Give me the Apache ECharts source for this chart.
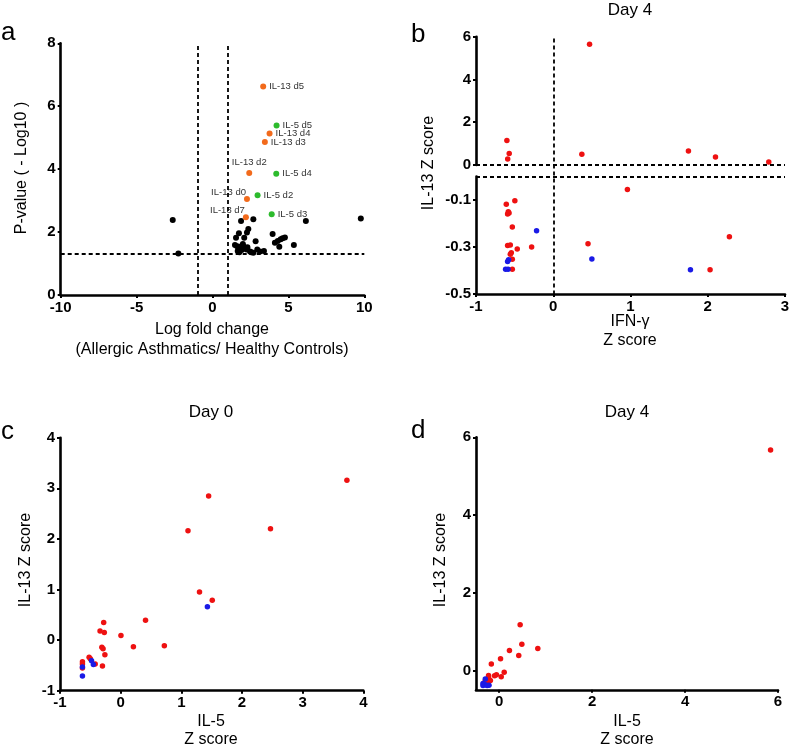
<!DOCTYPE html>
<html>
<head>
<meta charset="utf-8">
<script src="https://cdn.jsdelivr.net/npm/echarts@6/dist/echarts.min.js"></script>
<style>html,body{margin:0;padding:0;background:#fff}#c{width:790px;height:747px}</style>
</head>
<body>
<div id="c"></div>
<script>
// ---------- DATA ----------
// Panel a: volcano plot
const aBlackX = [-2.62,-2.25,9.77,6.15,1.88,2.69,1.74,2.36,2.27,2.09,1.55,2.84,3.96,4.62,4.49,4.77,4.11,4.40,5.36,1.48,1.77,2.03,2.14,1.92,1.66,1.77,2.47,2.69,2.95,3.13,3.39,2.25,1.62,2.00,4.30,2.30,1.85,2.55];
const aBlackY = [2.38,1.32,2.43,2.35,2.35,2.41,1.96,2.10,1.99,1.82,1.82,1.71,1.94,1.80,1.77,1.83,1.66,1.53,1.59,1.59,1.53,1.56,1.48,1.43,1.40,1.36,1.38,1.34,1.45,1.38,1.40,1.45,1.55,1.62,1.72,1.52,1.47,1.36];
const aIL13Names = ['IL-13 d5','IL-13 d4','IL-13 d3','IL-13 d2','IL-13 d0','IL-13 d7'];
const aIL13X = [3.34,3.76,3.45,2.42,2.27,2.20];
const aIL13Y = [6.63,5.13,4.86,3.88,3.05,2.47];
const aIL5Names = ['IL-5 d5','IL-5 d4','IL-5 d2','IL-5 d3'];
const aIL5X = [4.22,4.20,2.97,3.90];
const aIL5Y = [5.39,3.85,3.17,2.57];
const aPThreshold = 1.3;
const aFoldThresholds = [-1, 1];
const aXTicks = [-10,-5,0,5,10];
const aYTicks = [0,2,4,6,8];

// Panel b: Day 4, IFN-γ vs IL-13 (broken y axis)
const bRedX = [0.47,-0.60,-0.57,-0.59,0.37,1.75,2.10,2.79,0.96,2.28,2.03,0.45,-0.28,-0.466,-0.497,-0.608,-0.582,-0.591,-0.572,-0.53,-0.591,-0.556,-0.543,-0.556,-0.53,-0.53];
const bRedY = [5.65,1.15,0.54,0.28,0.50,0.65,0.37,0.14,-0.055,-0.256,-0.397,-0.286,-0.30,-0.308,-0.103,-0.118,-0.15,-0.16,-0.155,-0.215,-0.294,-0.292,-0.324,-0.331,-0.352,-0.395];
const bBlueX = [-0.216,-0.578,-0.591,-0.617,-0.585,0.50,1.776];
const bBlueY = [-0.231,-0.354,-0.362,-0.395,-0.395,-0.351,-0.397];
const bXTicks = [-1,0,1,2,3];
const bUpperYTicks = [0,2,4,6];
const bLowerYTicks = [-0.5,-0.3,-0.1];
const bRefX = 0, bRefY = 0;

// Panel c: Day 0, IL-5 vs IL-13
const cRedX = [3.73,1.45,1.11,2.47,1.30,1.51,0.41,-0.28,-0.34,-0.27,0.005,-0.31,-0.29,0.21,0.72,-0.26,-0.30,-0.52,-0.50,-0.42,-0.63,-0.63,-0.63];
const cRedY = [3.16,2.85,2.16,2.20,0.95,0.79,0.39,0.35,0.18,0.15,0.09,-0.14,-0.17,-0.13,-0.11,-0.29,-0.51,-0.34,-0.37,-0.47,-0.43,-0.47,-0.55];
const cBlueX = [1.43,-0.63,-0.63,-0.48,-0.45];
const cBlueY = [0.66,-0.53,-0.71,-0.41,-0.48];
const cTicks = [-1,0,1,2,3,4];

// Panel d: Day 4, IL-5 vs IL-13
const dRedX = [5.84,0.45,0.487,0.83,0.22,0.42,0.028,-0.17,0.107,0.043,-0.06,-0.10,-0.23,-0.23,-0.25,-0.19,-0.30];
const dRedY = [5.67,1.175,0.67,0.566,0.514,0.386,0.30,0.164,-0.05,-0.162,-0.11,-0.136,-0.13,-0.18,-0.26,-0.26,-0.27];
const dBlueX = [-0.30,-0.35,-0.30,-0.22,-0.35,-0.26];
const dBlueY = [-0.22,-0.34,-0.37,-0.38,-0.39,-0.39];
const dTicks = [0,2,4,6];

// ---------- STYLE / BUILD ----------
const FONT = 'Liberation Sans, Arial, sans-serif';
const RED = '#ee1111', BLUE = '#1a1ae6', ORANGE = '#f26a1b', GREEN = '#2dbb2d';
const zip = (xs, ys) => xs.map((x, i) => [x, ys[i]]);

function ax(gridIndex, min, max, ticks, isX, extra) {
  return Object.assign({
    type: 'value', gridIndex, min, max,
    axisLine: { show: true, onZero: false, lineStyle: { color: '#000', width: 2.6 } },
    axisTick: { show: true, length: 3, customValues: ticks, lineStyle: { color: '#000', width: 2 } },
    axisLabel: { show: true, customValues: ticks, color: '#000', fontWeight: 'bold', fontSize: 15, fontFamily: FONT, margin: isX ? 5 : 5 },
    splitLine: { show: false }
  }, extra || {});
}
function hidden(gridIndex, min, max) {
  return { type: 'value', gridIndex, min, max, show: false, splitLine: { show: false } };
}
const dash = { type: [4, 3], color: '#000', width: 1.8 };
function mline(data) {
  return { silent: true, symbol: 'none', label: { show: false }, lineStyle: dash, emphasis: { disabled: true }, data };
}

const grids = [
  { left: 60.7, top: 43.3, width: 303.6, height: 251.7 },   // a
  { left: 476, top: 36.7, width: 309, height: 128.3 },      // b upper
  { left: 476, top: 176.5, width: 309, height: 117.5 },     // b lower
  { left: 476, top: 36.7, width: 309, height: 257.8 },      // b overlay
  { left: 60, top: 437.7, width: 303.3, height: 253 },      // c
  { left: 476, top: 437.3, width: 302, height: 252.5 }      // d
].map(g => Object.assign({ outerBoundsMode: 'none', containLabel: false }, g));

const xAxes = [
  ax(0, -10, 10, aXTicks, true),
  hidden(1, -1, 3),
  ax(2, -1, 3, bXTicks, true),
  hidden(3, -1, 3),
  ax(4, -1, 4, cTicks, true),
  ax(5, -0.5, 6, dTicks, true)
];
const yAxes = [
  ax(0, 0, 8, aYTicks, false),
  ax(1, 0, 6, bUpperYTicks, false),
  ax(2, -0.5, 0, bLowerYTicks, false),
  hidden(3, 0, 1),
  ax(4, -1, 4, cTicks, false),
  ax(5, -0.5, 6, dTicks, false)
];

const labelPlacement = {
  'IL-13 d2': { position: 'top', distance: 3 },
  'IL-13 d0': { position: 'left', distance: -2, offset: [0, -7] },
  'IL-13 d7': { position: 'left', distance: -2, offset: [0, -7] }
};
function labeled(names, xs, ys) {
  return names.map((n, i) => {
    const p = labelPlacement[n] || { position: 'right', distance: 3 };
    return { name: n, value: [xs[i], ys[i]], label: Object.assign({ show: true, formatter: '{b}' }, p) };
  });
}
const baseLabel = { color: '#333', fontSize: 9.5, fontFamily: FONT };

const sc = (xi, data, color, size, extra) => Object.assign({
  type: 'scatter', xAxisIndex: xi, yAxisIndex: xi, data, symbolSize: size || 5.5,
  itemStyle: { color, opacity: 1 }, silent: true, animation: false, clip: false
}, extra || {});

const bRed = zip(bRedX, bRedY), bBlue = zip(bBlueX, bBlueY);

const series = [
  sc(0, zip(aBlackX, aBlackY), '#000', 6, {
    markLine: mline([{ yAxis: aPThreshold }].concat(aFoldThresholds.map(v => ({ xAxis: v }))))
  }),
  sc(0, labeled(aIL13Names, aIL13X, aIL13Y), ORANGE, 6, { label: baseLabel }),
  sc(0, labeled(aIL5Names, aIL5X, aIL5Y), GREEN, 6, { label: baseLabel }),
  sc(1, bRed.filter(p => p[1] >= 0), RED, 5.5, { markLine: mline([{ yAxis: bRefY }]) }),
  sc(1, bBlue.filter(p => p[1] >= 0), BLUE, 5.5),
  sc(2, bRed.filter(p => p[1] < 0), RED, 5.5, { markLine: mline([{ yAxis: bRefY }]) }),
  sc(2, bBlue.filter(p => p[1] < 0), BLUE, 5.5),
  sc(3, [], '#000', 0, { markLine: mline([{ xAxis: bRefX }]) }),
  sc(4, zip(cRedX, cRedY), RED, 5.5),
  sc(4, zip(cBlueX, cBlueY), BLUE, 5.5),
  sc(5, zip(dRedX, dRedY), RED, 5.5),
  sc(5, zip(dBlueX, dBlueY), BLUE, 5.5)
];

function txt(text, x, y, size, opts) {
  opts = opts || {};
  const st = {
    text, fill: '#000', font: (opts.weight || 'normal') + ' ' + size + 'px ' + FONT,
    align: opts.align || 'center', verticalAlign: opts.valign || 'middle',
    textAlign: opts.align || 'center', textVerticalAlign: opts.valign || 'middle'
  };
  return { type: 'text', x, y, rotation: opts.rot || 0, style: st, silent: true, z: 100 };
}
const R = Math.PI / 2;
const graphics = [
  txt('a', 1, 20, 26, { align: 'left', valign: 'alphabetic' }),
  txt('b', 411, 22, 26, { align: 'left', valign: 'alphabetic' }),
  txt('c', 1, 419, 26, { align: 'left', valign: 'alphabetic' }),
  txt('d', 411, 418, 26, { align: 'left', valign: 'alphabetic' }),
  txt('Day 4', 630, 10, 17),
  txt('Day 0', 211, 412, 17),
  txt('Day 4', 627, 412, 17),
  txt('P-value ( - Log10 )', 21.5, 168, 16, { rot: R }),
  txt('Log fold change', 212, 330, 16),
  txt('(Allergic Asthmatics/ Healthy Controls)', 212, 350, 16),
  txt('IL-13 Z score', 429, 163, 16, { rot: R }),
  txt('IFN-\u03b3', 630, 322, 16),
  txt('Z score', 630, 341, 16),
  txt('IL-13 Z score', 26, 560, 16, { rot: R }),
  txt('IL-5', 211, 721.5, 16),
  txt('Z score', 211, 739.5, 16),
  txt('IL-13 Z score', 441, 560, 16, { rot: R }),
  txt('IL-5', 627, 721.5, 16),
  txt('Z score', 627, 739.5, 16)
];

const chart = echarts.init(document.getElementById('c'), null, { renderer: 'canvas' });
chart.setOption({
  animation: false,
  backgroundColor: '#fff',
  grid: grids,
  xAxis: xAxes,
  yAxis: yAxes,
  series,
  graphic: { elements: graphics }
});
</script>
</body>
</html>
